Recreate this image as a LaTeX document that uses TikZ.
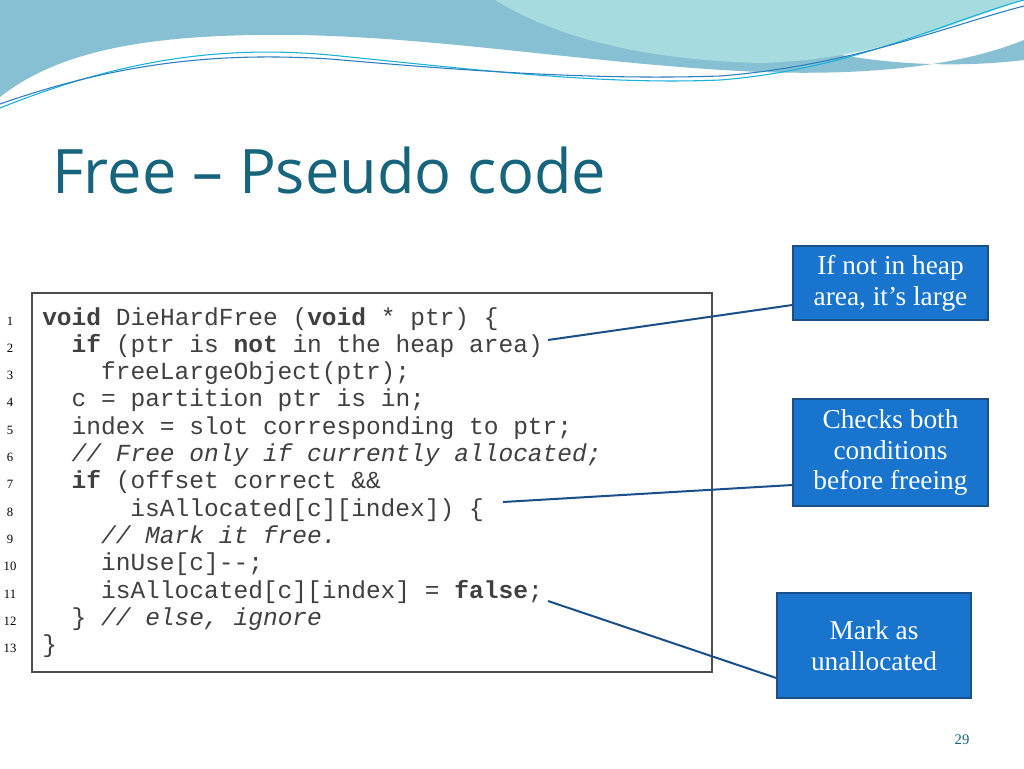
\documentclass[tikz,border=0pt]{standalone}
\usepackage{fontspec}
\setmainfont{Liberation Serif}
\newfontfamily\titlefont{Open Sans}
\newfontfamily\codefont{Liberation Mono}
\definecolor{wavedark}{HTML}{86C0D2}
\definecolor{wavelight}{HTML}{A6DCE0}
\definecolor{waveline}{HTML}{2A7FC0}
\definecolor{titleteal}{HTML}{17657C}
\definecolor{calloutblue}{HTML}{1874CD}
\definecolor{calloutedge}{HTML}{1B4F8A}
\definecolor{pointer}{HTML}{1B4F8A}
\tikzset{
  callout/.style={draw=calloutedge, fill=calloutblue, text=white, line width=1pt,
    font=\fontsize{20.5}{23}\selectfont, align=center, inner sep=0pt},
  codeline/.style={anchor=base west, inner sep=0pt, font=\codefont\fontsize{18.4}{20}\selectfont, text=black!75},
  lineno/.style={anchor=base, inner sep=0pt, font=\fontsize{9.5}{10}\selectfont},
  pointerline/.style={draw=pointer, line width=1.5pt}
}
\begin{document}
\begin{tikzpicture}[x=0.75pt, y=-0.75pt]
  \useasboundingbox (0,0) rectangle (1024,768);
  \fill[white] (0,0) rectangle (1024,768);
  % header waves
  \fill[wavedark] (0,0) -- (700,0) .. controls (760,50) and (900,75) .. (1024,60)
    -- (1024,40) .. controls (950,70) and (850,75) .. (760,72)
    .. controls (600,65) and (450,38) .. (300,35)
    .. controls (150,33) and (60,50) .. (0,97) -- cycle;
  \fill[wavelight] (495,0) .. controls (560,40) and (650,60) .. (760,63)
    .. controls (880,60) and (960,20) .. (1024,0) -- cycle;
  \draw[waveline!60!cyan, line width=0.8pt] (0,108) .. controls (120,60) and (220,45) .. (330,55)
    .. controls (480,70) and (600,85) .. (720,80) .. controls (850,70) and (950,20) .. (1024,0);
  \draw[waveline, line width=0.8pt] (0,104) .. controls (120,62) and (220,52) .. (330,59)
    .. controls (480,72) and (600,80) .. (720,76) .. controls (850,66) and (950,25) .. (1024,6);
  % title
  \node (title) [anchor=base west, inner sep=0pt, text=titleteal,
    font=\titlefont\fontsize{46}{50}\selectfont] at (52,193) {Free – Pseudo code};
  % code listing
  \draw[black!70, line width=1.2pt] (32,293) rectangle (712,672);
  \foreach \n/\ind/\txt in {
    1/0/{\textbf{void} DieHardFree (\textbf{void} * ptr) \{},
    2/2/{\textbf{if} (ptr is \textbf{not} in the heap area)},
    3/4/{freeLargeObject(ptr);},
    4/2/{c = partition ptr is in;},
    5/2/{index = slot corresponding to ptr;},
    6/2/{\textit{// Free only if currently allocated;}},
    7/2/{\textbf{if} (offset correct \&\&},
    8/6/{isAllocated[c][index]) \{},
    9/4/{\textit{// Mark it free.}},
    10/4/{inUse[c]--;},
    11/4/{isAllocated[c][index] = \textbf{false};},
    12/2/{\} \textit{// else, ignore}},
    13/0/{\}}}
  {
    \node[lineno] (no\n) at (10,{325+27.3*(\n-1)}) {\n};
    \node[codeline] (code\n) at ({42+14.7*\ind},{325+27.3*(\n-1)}) {\txt};
  }
  % callouts
  \node (heap) [callout, minimum width=195pt*0.75, minimum height=74pt*0.75] at (890.5,283)
    {If not in heap\\area, it’s large};
  \node (check) [callout, minimum width=195pt*0.75, minimum height=107pt*0.75] at (890.5,452.5)
    {Checks both\\conditions\\before freeing};
  \node (mark) [callout, minimum width=194pt*0.75, minimum height=105pt*0.75] at (874,645.5)
    {Mark as\\unallocated};
  \coordinate (heapend) at (548,340);
  \coordinate (checkend) at (503,502);
  \coordinate (markend) at (548,601);
  \draw[pointerline] (heapend) -- (heap.west |- 0,305);
  \draw[pointerline] (checkend) -- (check.west |- 0,485);
  \draw[pointerline] (markend) -- (mark.west |- 0,678);
  % page number
  \node (page) [inner sep=0pt, font=\fontsize{11}{12}\selectfont, text=titleteal] at (962,740) {29};
\end{tikzpicture}
\end{document}
